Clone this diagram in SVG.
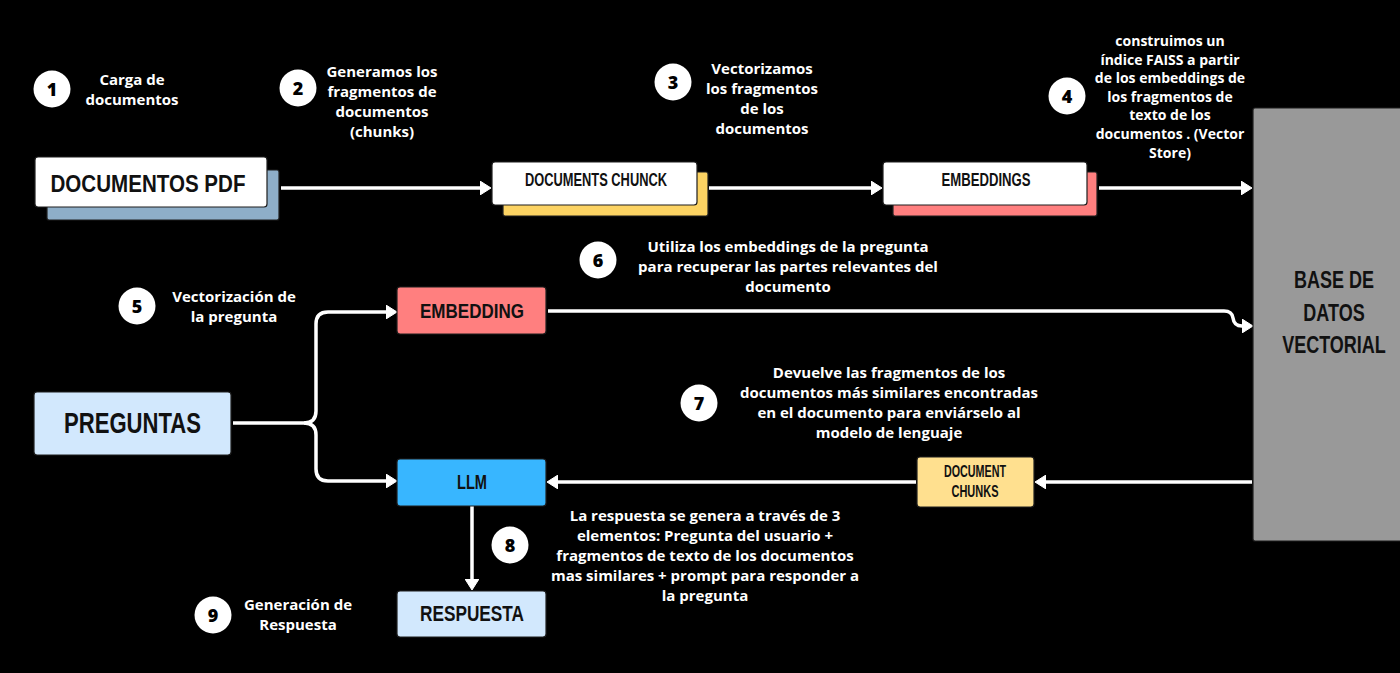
<svg xmlns="http://www.w3.org/2000/svg" width="1400" height="673" viewBox="0 0 1400 673">
<defs>
<marker id="ah" markerUnits="userSpaceOnUse" markerWidth="11" markerHeight="14" refX="3" refY="7" orient="auto" viewBox="0 0 11 14">
<path d="M0,0 L11,7 L0,14 z" fill="#ffffff" stroke="#ffffff" stroke-width="1" stroke-linejoin="round"/>
</marker>
<style>
.bg{fill:#000000}
.box{stroke:#1e1e1e;stroke-width:1.2}
.title{font-family:"Liberation Sans",Arial,sans-serif;font-weight:bold;fill:#111111;text-anchor:middle}
.lbl{font-family:"Open Sans","Liberation Sans",sans-serif;font-weight:bold;font-size:15px;fill:#ffffff;text-anchor:middle}
.lbl4{font-size:14px}
.num{font-family:"Open Sans","Liberation Sans",sans-serif;font-weight:800;font-size:18px;fill:#000000;text-anchor:middle}
.badge{fill:#ffffff}
.conn{fill:none;stroke:#ffffff;stroke-width:3.5;marker-end:url(#ah)}
.plain{fill:none;stroke:#ffffff;stroke-width:3.5}
</style>
</defs>
<rect class="bg" x="0" y="0" width="1400" height="673"/>

<g id="connectors">
<path class="conn" d="M281,188 H483"/>
<path class="conn" d="M709,188 H874"/>
<path class="conn" d="M1099,188 H1244"/>
<path class="conn" d="M548,311 H1224 Q1232,311 1233,318 Q1234,326 1242,326 H1245"/>
<path class="conn" d="M1252,482 H1043"/>
<path class="conn" d="M916,482 H555"/>
<path class="conn" d="M472,506 V582"/>
<path class="plain" d="M233,423 H304"/>
<path class="conn" d="M304,423 Q316,423 316,411 V324 Q316,312 328,312 H389"/>
<path class="conn" d="M304,423 Q316,423 316,435 V469 Q316,481 328,481 H389"/>
</g>

<g id="node-documentos-pdf">
<rect class="box" x="47" y="170" width="232" height="50" rx="2" fill="#8eaec8"/>
<rect class="box" x="35" y="157" width="232" height="50" rx="3" fill="#ffffff"/>
<text class="title" x="148" y="192" font-size="24" textLength="195" lengthAdjust="spacingAndGlyphs">DOCUMENTOS PDF</text>
</g>

<g id="node-documents-chunck">
<rect class="box" x="503" y="172" width="205" height="44" rx="2" fill="#fcd363"/>
<rect class="box" x="492" y="162" width="205" height="43" rx="3" fill="#ffffff"/>
<text class="title" x="596" y="186" font-size="18" textLength="142" lengthAdjust="spacingAndGlyphs">DOCUMENTS CHUNCK</text>
</g>

<g id="node-embeddings">
<rect class="box" x="893" y="172" width="204" height="44" rx="2" fill="#ff7f7f"/>
<rect class="box" x="883" y="162" width="204" height="43" rx="3" fill="#ffffff"/>
<text class="title" x="986" y="186" font-size="18" textLength="89" lengthAdjust="spacingAndGlyphs">EMBEDDINGS</text>
</g>

<g id="node-base-datos">
<rect class="box" x="1253" y="108" width="160" height="433" rx="2" fill="#999999"/>
<text class="title" font-size="24" transform="translate(1334,288) scale(0.75,1)">BASE DE</text>
<text class="title" font-size="24" transform="translate(1334,321) scale(0.75,1)">DATOS</text>
<text class="title" font-size="24" transform="translate(1334,353) scale(0.75,1)">VECTORIAL</text>
</g>

<g id="node-preguntas">
<rect class="box" x="34" y="392" width="197" height="63" rx="3" fill="#d2e8fd"/>
<text class="title" x="132.5" y="433" font-size="30" textLength="137" lengthAdjust="spacingAndGlyphs">PREGUNTAS</text>
</g>

<g id="node-embedding">
<rect class="box" x="397" y="287" width="149" height="47" rx="3" fill="#ff7f7f"/>
<text class="title" x="472" y="318" font-size="21" textLength="104" lengthAdjust="spacingAndGlyphs">EMBEDDING</text>
</g>

<g id="node-llm">
<rect class="box" x="397" y="459" width="149" height="47" rx="3" fill="#38b6ff"/>
<text class="title" x="472" y="489" font-size="20" textLength="30" lengthAdjust="spacingAndGlyphs">LLM</text>
</g>

<g id="node-document-chunks">
<rect class="box" x="917" y="457" width="117" height="50" rx="3" fill="#ffe08f"/>
<text class="title" x="975" y="477" font-size="16" textLength="62" lengthAdjust="spacingAndGlyphs">DOCUMENT</text>
<text class="title" x="975" y="497" font-size="16" textLength="47" lengthAdjust="spacingAndGlyphs">CHUNKS</text>
</g>

<g id="node-respuesta">
<rect class="box" x="397" y="591" width="149" height="46" rx="3" fill="#d2e8fd"/>
<text class="title" x="472" y="621" font-size="22" textLength="104" lengthAdjust="spacingAndGlyphs">RESPUESTA</text>
</g>

<g id="step-1">
<circle class="badge" cx="52" cy="89" r="18.5"/>
<text class="num" x="52" y="95.5">1</text>
<text class="lbl" x="132" y="85">Carga de</text>
<text class="lbl" x="132" y="105">documentos</text>
</g>

<g id="step-2">
<circle class="badge" cx="298" cy="88" r="18.5"/>
<text class="num" x="298" y="94.5">2</text>
<text class="lbl" x="382" y="77">Generamos los</text>
<text class="lbl" x="382" y="97">fragmentos de</text>
<text class="lbl" x="382" y="117">documentos</text>
<text class="lbl" x="382" y="137">(chunks)</text>
</g>

<g id="step-3">
<circle class="badge" cx="673" cy="82" r="18.5"/>
<text class="num" x="673" y="88.5">3</text>
<text class="lbl" x="762" y="74">Vectorizamos</text>
<text class="lbl" x="762" y="94">los fragmentos</text>
<text class="lbl" x="762" y="114">de los</text>
<text class="lbl" x="762" y="134">documentos</text>
</g>

<g id="step-4">
<circle class="badge" cx="1067" cy="96" r="18.5"/>
<text class="num" x="1067" y="102.5">4</text>
<text class="lbl lbl4" x="1170" y="46">construimos un</text>
<text class="lbl lbl4" x="1170" y="64.6">índice FAISS a partir</text>
<text class="lbl lbl4" x="1170" y="83.2">de los embeddings de</text>
<text class="lbl lbl4" x="1170" y="101.8">los fragmentos de</text>
<text class="lbl lbl4" x="1170" y="120.4">texto de los</text>
<text class="lbl lbl4" x="1170" y="139">documentos . (Vector</text>
<text class="lbl lbl4" x="1170" y="157.6">Store)</text>
</g>

<g id="step-5">
<circle class="badge" cx="137" cy="306" r="18.5"/>
<text class="num" x="137" y="312.5">5</text>
<text class="lbl" x="234" y="302">Vectorización de</text>
<text class="lbl" x="234" y="322">la pregunta</text>
</g>

<g id="step-6">
<circle class="badge" cx="598" cy="260" r="18.5"/>
<text class="num" x="598" y="266.5">6</text>
<text class="lbl" x="788" y="252">Utiliza los embeddings de la pregunta</text>
<text class="lbl" x="788" y="272">para recuperar las partes relevantes del</text>
<text class="lbl" x="788" y="292">documento</text>
</g>

<g id="step-7">
<circle class="badge" cx="699" cy="403" r="18.5"/>
<text class="num" x="699" y="409.5">7</text>
<text class="lbl" x="889" y="378">Devuelve las fragmentos de los</text>
<text class="lbl" x="889" y="398">documentos más similares encontradas</text>
<text class="lbl" x="889" y="418">en el documento para enviárselo al</text>
<text class="lbl" x="889" y="438">modelo de lenguaje</text>
</g>

<g id="step-8">
<circle class="badge" cx="510" cy="545" r="18.5"/>
<text class="num" x="510" y="551.5">8</text>
<text class="lbl" x="705" y="521">La respuesta se genera a través de 3</text>
<text class="lbl" x="705" y="541">elementos: Pregunta del usuario +</text>
<text class="lbl" x="705" y="561">fragmentos de texto de los documentos</text>
<text class="lbl" x="705" y="581">mas similares + prompt para responder a</text>
<text class="lbl" x="705" y="601">la pregunta</text>
</g>

<g id="step-9">
<circle class="badge" cx="213" cy="615" r="18.5"/>
<text class="num" x="213" y="621.5">9</text>
<text class="lbl" x="298" y="610">Generación de</text>
<text class="lbl" x="298" y="630">Respuesta</text>
</g>
</svg>
